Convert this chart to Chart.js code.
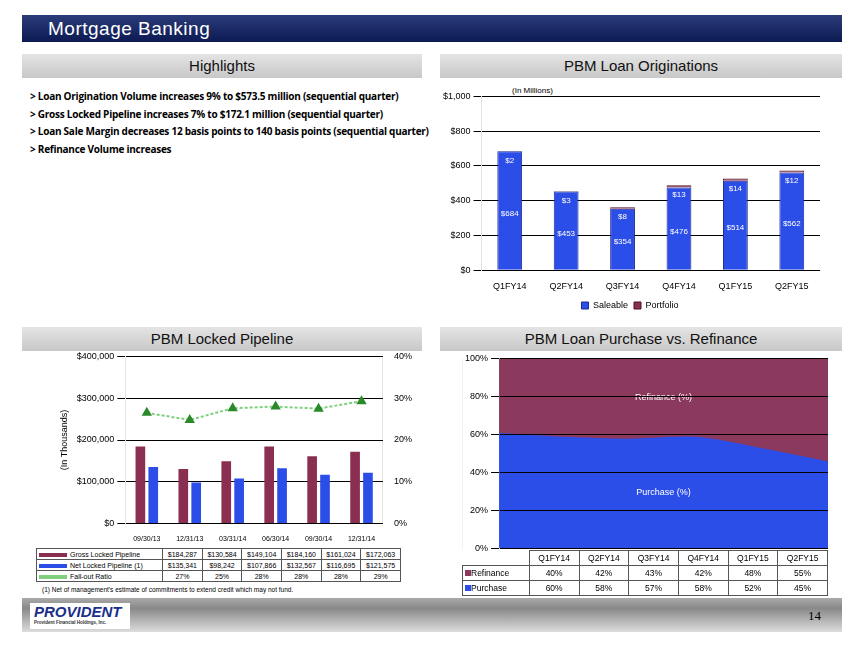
<!DOCTYPE html>
<html><head><meta charset="utf-8">
<script src="https://cdn.jsdelivr.net/npm/chart.js@4"></script>
<style>
body{margin:0;width:864px;height:648px;background:#fff;font-family:Arial,"Liberation Sans",sans-serif;position:relative;overflow:hidden}
.abs{position:absolute}
#title{left:22px;top:15px;width:820px;height:27px;background:linear-gradient(#2a3c7a,#0d1a52);color:#fff;font-size:19px;line-height:27px;padding-left:26px;box-sizing:border-box;letter-spacing:0.5px}
.ph{height:24px;background:linear-gradient(#e4e4e4,#c8c8c8);text-align:center;font-size:15px;line-height:24px;color:#111}
ul{margin:0;padding:0;list-style:none;font-size:10px;font-weight:bold;font-family:"Open Sans",sans-serif;line-height:17.5px;letter-spacing:-0.25px}
table{border-collapse:collapse;font-size:7px}
td{border:1px solid #555;text-align:center;padding:0 2px;height:10px}
#t2 td{font-size:8.5px;height:14px}
#foot{left:22px;top:598px;width:820px;height:34px;background:linear-gradient(#aaa,#888 30%,#ddd)}
</style></head><body>
<div id="title" class="abs">Mortgage Banking</div>
<div class="abs ph" style="left:22px;top:54px;width:400px">Highlights</div>
<div class="abs ph" style="left:440px;top:54px;width:402px">PBM Loan Originations</div>
<div class="abs ph" style="left:22px;top:327px;width:400px">PBM Locked Pipeline</div>
<div class="abs ph" style="left:440px;top:327px;width:402px">PBM Loan Purchase vs. Refinance</div>
<ul class="abs" style="left:30px;top:88px;width:410px" id="hl"></ul>
<div class="abs" style="left:512px;top:86px;font-size:8px">(In Millions)</div>
<div class="abs" style="left:440px;top:88px;width:400px;height:232px"><canvas id="c1"></canvas></div>
<div class="abs" style="left:55px;top:348px;width:360px;height:198px"><canvas id="c2"></canvas></div>
<table id="t1" class="abs" style="left:36px;top:548px;width:365px"></table>
<div class="abs" style="left:42px;top:586px;font-size:6.5px">(1) Net of management's estimate of commitments to extend credit which may not fund.</div>
<div class="abs" style="left:462px;top:350px;width:378px;height:207px"><canvas id="c3"></canvas></div>
<table id="t2" class="abs" style="left:462px;top:550px;width:366px"></table>
<div id="foot" class="abs"></div>
<div class="abs" style="left:30px;top:603px;width:100px;height:26px;background:#fff;color:#1a2e8a;font-weight:bold;font-size:15px;font-style:italic;padding-left:4px;box-sizing:border-box">PROVIDENT<div style="font-size:4.5px;font-style:normal;color:#333">Provident Financial Holdings, Inc.</div></div>
<div class="abs" style="left:808px;top:608px;font-family:'Liberation Serif',serif;font-size:13px">14</div>
<script>
const highlights = ['Loan Origination Volume increases 9% to $573.5 million (sequential quarter)','Gross Locked Pipeline increases 7% to $172.1 million (sequential quarter)','Loan Sale Margin decreases 12 basis points to 140 basis points (sequential quarter)','Refinance Volume increases'];
const quarters = ['Q1FY14','Q2FY14','Q3FY14','Q4FY14','Q1FY15','Q2FY15'];
const saleable = [684,453,354,476,514,562];
const portfolio = [2,3,8,13,14,12];
const pipeDates = ['09/30/13','12/31/13','03/31/14','06/30/14','09/30/14','12/31/14'];
const grossLocked = [184287,130584,149104,184160,161024,172063];
const netLocked = [135341,98242,107866,132567,116695,121575];
const falloutRatio = [26.5,24.8,27.6,28.0,27.5,29.3];
const falloutLabels = ['27%','25%','28%','28%','28%','29%'];
const refinance = [40,42,43,42,48,55];
const purchase = [60,58,57,58,52,45];

const RED='#8b2f52', BLUE='#2b4de8';
document.getElementById('hl').innerHTML = highlights.map(h=>'<li style="padding-left:10px;text-indent:-10px">&gt; '+h+'</li>').join('');
Chart.defaults.font.family = 'Arial, "Liberation Sans", sans-serif';
Chart.defaults.color = '#000';
Chart.defaults.animation = false;

const inLabels = {id:'inLabels', afterDatasetsDraw(ch){
  const c=ch.ctx; c.save(); c.font='8px Arial'; c.fillStyle='#fff'; c.textAlign='center';
  ch.getDatasetMeta(0).data.forEach((b,i)=>c.fillText('$'+saleable[i], b.x, (b.y+b.base)/2+3));
  ch.getDatasetMeta(1).data.forEach((b,i)=>c.fillText('$'+portfolio[i], b.x, b.y+10));
  c.restore();}};
new Chart(document.getElementById('c1'),{type:'bar',
  data:{labels:quarters,datasets:[
    {label:'Saleable',data:saleable,backgroundColor:BLUE,borderColor:'#1a2a90',borderWidth:1,barPercentage:0.55},
    {label:'Portfolio',data:portfolio,backgroundColor:RED,borderColor:'#501020',borderWidth:1,barPercentage:0.55}]},
  options:{responsive:true,maintainAspectRatio:false,layout:{padding:{top:6,right:20}},
    plugins:{legend:{position:'bottom',labels:{boxWidth:7,boxHeight:7,font:{size:9},padding:6}},tooltip:{enabled:false}},
    scales:{x:{stacked:true,grid:{display:false},ticks:{font:{size:9}}},
      y:{stacked:true,min:0,max:1000,ticks:{stepSize:200,font:{size:9},callback:v=>'$'+v.toLocaleString('en-US')},grid:{color:'#000'}}}},
  plugins:[inLabels]});

new Chart(document.getElementById('c2'),{type:'bar',
  data:{labels:pipeDates,datasets:[
    {type:'line',label:'Fall-out Ratio',data:falloutRatio,yAxisID:'y1',borderColor:'#7ed07e',borderWidth:2,borderDash:[3,2],pointStyle:'triangle',pointRadius:4,pointBackgroundColor:'#2a8a2a',pointBorderColor:'#2a8a2a'},
    {label:'Gross Locked Pipeline',data:grossLocked,backgroundColor:RED,barPercentage:0.75,categoryPercentage:0.6},
    {label:'Net Locked Pipeline (1)',data:netLocked,backgroundColor:BLUE,barPercentage:0.75,categoryPercentage:0.6}]},
  options:{responsive:true,maintainAspectRatio:false,
    plugins:{legend:{display:false},tooltip:{enabled:false}},
    scales:{x:{grid:{display:false},ticks:{font:{size:7}}},
      y:{min:0,max:400000,ticks:{stepSize:100000,font:{size:9},callback:v=>'$'+v.toLocaleString('en-US')},grid:{color:'#000'},title:{display:true,text:'(In Thousands)',font:{size:9}}},
      y1:{position:'right',min:0,max:40,ticks:{stepSize:10,font:{size:9},callback:v=>v+'%'},grid:{display:false}}}}});

const fmt = v=>'$'+v.toLocaleString('en-US');
const sw = c=>'<span style="display:inline-block;width:28px;height:4px;background:'+c+';vertical-align:middle;margin-right:3px"></span>';
document.getElementById('t1').innerHTML =
  '<tr><td style="text-align:left">'+sw(RED)+'Gross Locked Pipeline</td>'+grossLocked.map(v=>'<td>'+fmt(v)+'</td>').join('')+'</tr>'+
  '<tr><td style="text-align:left">'+sw(BLUE)+'Net Locked Pipeline (1)</td>'+netLocked.map(v=>'<td>'+fmt(v)+'</td>').join('')+'</tr>'+
  '<tr><td style="text-align:left">'+sw('#7ed07e')+'Fall-out Ratio</td>'+falloutLabels.map(v=>'<td>'+v+'</td>').join('')+'</tr>';

const areaLabels = {id:'areaLabels', afterDatasetsDraw(ch){
  const c=ch.ctx, a=ch.chartArea, y=ch.scales.y; c.save(); c.font='9px Arial'; c.fillStyle='#fff'; c.textAlign='center';
  const cx=(a.left+a.right)/2;
  c.fillText('Refinance (%)',cx,y.getPixelForValue(78)); c.fillText('Purchase (%)',cx,y.getPixelForValue(28)); c.restore();}};
new Chart(document.getElementById('c3'),{type:'line',
  data:{labels:quarters,datasets:[
    {label:'Purchase',data:purchase,fill:'origin',backgroundColor:BLUE,borderColor:BLUE,pointRadius:0,tension:0.3},
    {label:'Refinance',data:refinance,fill:'-1',backgroundColor:'#8b3a5e',borderColor:'#8b3a5e',pointRadius:0,tension:0.3}]},
  options:{responsive:true,maintainAspectRatio:false,layout:{padding:{right:12,bottom:0}},
    plugins:{legend:{display:false},tooltip:{enabled:false}},
    scales:{x:{offset:false,display:false},
      y:{stacked:true,min:0,max:100,ticks:{stepSize:20,font:{size:9},callback:v=>v+'%'},grid:{color:'#000',z:1}}}},
  plugins:[areaLabels]});
document.getElementById('t2').innerHTML =
  '<tr><td style="border:none"></td>'+quarters.map(q=>'<td>'+q+'</td>').join('')+'</tr>'+
  '<tr><td style="text-align:left"><span style="display:inline-block;width:6px;height:6px;background:#8b3a5e"></span>Refinance</td>'+refinance.map(v=>'<td>'+v+'%</td>').join('')+'</tr>'+
  '<tr><td style="text-align:left"><span style="display:inline-block;width:6px;height:6px;background:'+BLUE+'"></span>Purchase</td>'+purchase.map(v=>'<td>'+v+'%</td>').join('')+'</tr>';
</script></body></html>
